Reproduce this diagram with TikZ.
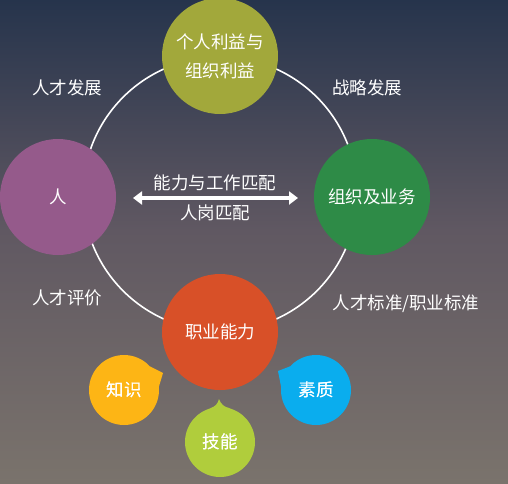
\documentclass[tikz,border=0pt]{standalone}
\usepackage{fontspec}
\setmainfont{Noto Sans CJK SC}
\usepackage{xcolor}
\usetikzlibrary{arrows.meta,calc}

\definecolor{bgtop}{HTML}{26344C}
\definecolor{bgmid}{HTML}{605862}
\definecolor{bgbot}{HTML}{7A736C}
\definecolor{olive}{HTML}{A2A83B}
\definecolor{plum}{HTML}{955A8B}
\definecolor{leaf}{HTML}{2E8B47}
\definecolor{rust}{HTML}{D85028}
\definecolor{amber}{HTML}{FDB515}
\definecolor{sky}{HTML}{0AADEE}
\definecolor{lime}{HTML}{B0CD3C}

\begin{document}
\begin{tikzpicture}[
  x=1pt, y=-1pt,
  font=\fontsize{17.5}{29}\selectfont,
  >={Triangle[length=9pt,width=13pt]},
  big/.style={circle, minimum size=116pt, inner sep=0pt, text=white, align=center},
  small/.style={circle, minimum size=70pt, inner sep=0pt, text=white},
  lbl/.style={text=white, inner sep=0pt},
  ring/.style={draw=white, line width=1.6pt},
  ar/.style={<->, draw=white, line width=3.2pt},
]
% background
\shade[top color=bgtop, bottom color=bgmid] (0,0) rectangle (508,230);
\shade[top color=bgmid, bottom color=bgbot] (0,229.5) rectangle (508,483);
\useasboundingbox (0,0) rectangle (508,483);
\coordinate (hub) at (220,194);
\draw[ring] (hub) circle[radius=137pt];
\node[big, fill=olive] (gain) at (220,56) {个人利益与\\组织利益};
\node[big, fill=plum] (ren) at (58,197) {人};
\node[big, fill=leaf] (org) at (372,197) {组织及业务};
\node[big, fill=rust] (cap) at (220,332) {职业能力};
\node[small, fill=amber] (zs) at (124,390) {知识};
\node[small, fill=sky] (sz) at (316,390) {素质};
\node[small, fill=lime] (jn) at (220,442) {技能};
% speech tails
\coordinate (zsTip) at (163,373);
\coordinate (szTip) at (278,371);
\coordinate (jnTip) at (219,399);
\fill[amber] (zs.6) -- (zsTip) -- (zs.42) -- (zs.center) -- cycle;
\fill[sky] (sz.138) -- (szTip) -- (sz.174) -- (sz.center) -- cycle;
\fill[lime] (jn.74) to[bend left=30] (jnTip) to[bend left=30] (jn.106) -- (jn.center) -- cycle;
\node[small] at (zs) {知识};
\node[small] at (sz) {素质};
\node[small] at (jn) {技能};
% middle arrow
\coordinate (aL) at (133,198);
\coordinate (aR) at (298,198);
\draw[ar] (aL) -- (aR);
\node[lbl] (fit) at (215,183) {能力与工作匹配};
\node[lbl] (job) at (215,213) {人岗匹配};
% ring labels
\node[lbl] (dev) at (67,88) {人才发展};
\node[lbl] (str) at (367,88) {战略发展};
\node[lbl] (eva) at (67,298) {人才评价};
\node[lbl] (std) at (406,304) {人才标准/职业标准};
\end{tikzpicture}
\end{document}
